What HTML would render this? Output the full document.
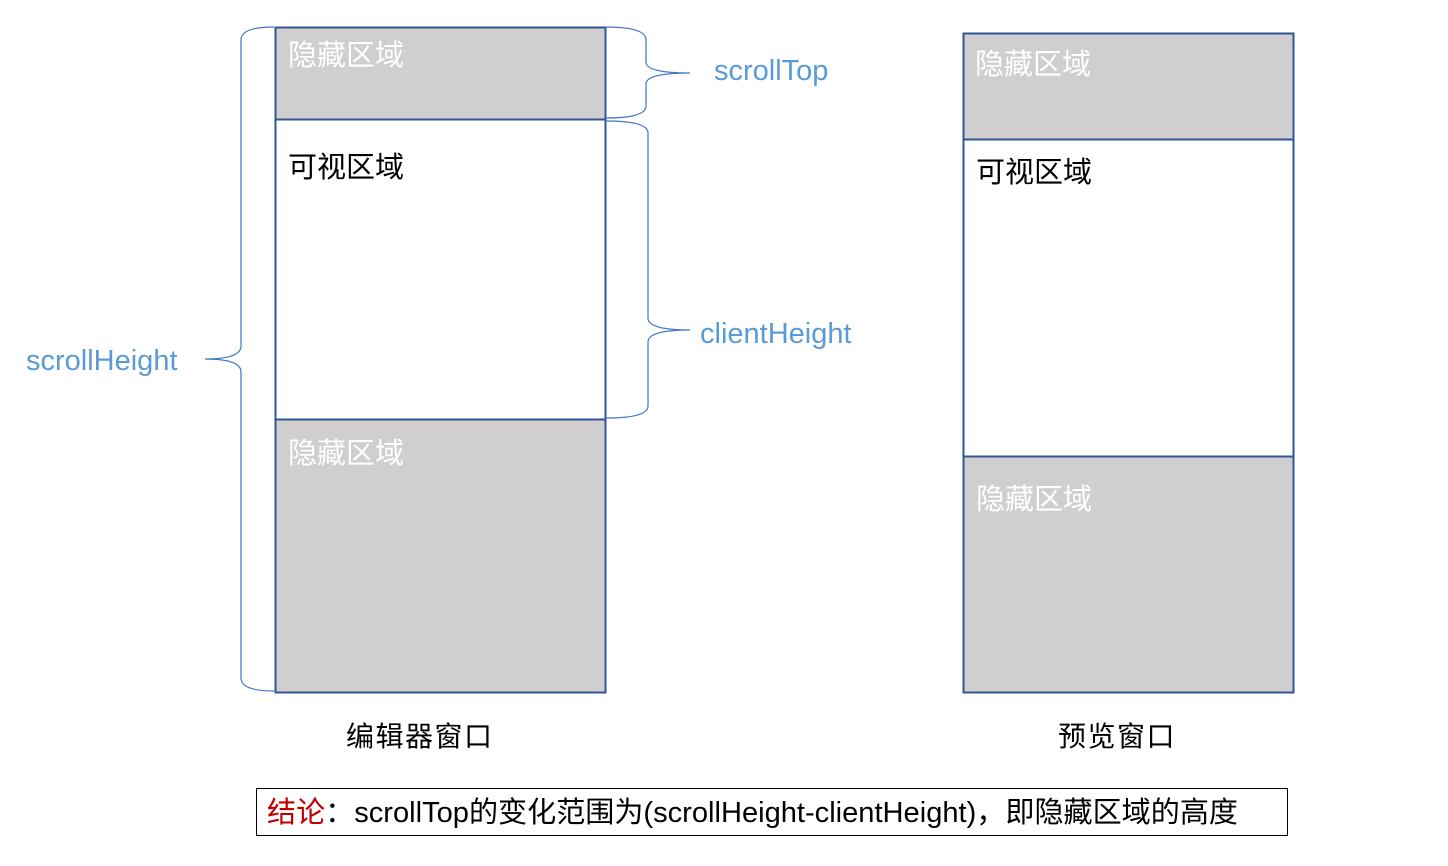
<!DOCTYPE html>
<html><head><meta charset="utf-8"><style>
body{margin:0;background:#fff;}
svg text{font-family:"Liberation Sans","Noto Sans CJK SC",sans-serif;}
</style></head><body>
<svg width="1448" height="861" viewBox="0 0 1448 861" xmlns="http://www.w3.org/2000/svg">
<rect x="0" y="0" width="1448" height="861" fill="#fff"/>
<rect x="275.5" y="27.5" width="330" height="92" fill="#d0cece"/>
<rect x="275.5" y="419.5" width="330" height="273" fill="#d0cece"/>
<rect x="275.5" y="27.5" width="330" height="665" fill="none" stroke="#2f5597" stroke-width="2"/>
<line x1="275" y1="119.5" x2="606" y2="119.5" stroke="#2f5597" stroke-width="2"/>
<line x1="275" y1="419.5" x2="606" y2="419.5" stroke="#2f5597" stroke-width="2"/>
<rect x="963.5" y="33.5" width="330" height="106" fill="#d0cece"/>
<rect x="963.5" y="456.5" width="330" height="236" fill="#d0cece"/>
<rect x="963.5" y="33.5" width="330" height="659" fill="none" stroke="#2f5597" stroke-width="2"/>
<line x1="963" y1="139.5" x2="1294" y2="139.5" stroke="#2f5597" stroke-width="2"/>
<line x1="963" y1="456.5" x2="1294" y2="456.5" stroke="#2f5597" stroke-width="2"/>
<g fill="none" stroke="#4472c4" stroke-width="1.2">
<path d="M274 27 Q241 27 241 40 L241 346 Q241 359 205 359 Q241 359 241 372 L241 678 Q241 691 274 691"/>
<path d="M606 27 Q646 27 646 40 L646 62 Q646 73 690 73 Q646 73 646 84 L646 106 Q646 118 606 118"/>
<path d="M606 121 Q648 121 648 133 L648 318 Q648 330 690 330 Q648 330 648 342 L648 406 Q648 418 606 418"/>
</g>
<g font-size="29">
<text x="288" y="65" fill="#fff">隐藏区域</text>
<text x="288" y="177" fill="#000">可视区域</text>
<text x="288" y="463" fill="#fff">隐藏区域</text>
<text x="975" y="74" fill="#fff">隐藏区域</text>
<text x="976" y="182" fill="#000">可视区域</text>
<text x="976" y="509" fill="#fff">隐藏区域</text>
</g>
<g font-size="28" letter-spacing="1.5">
<text x="346" y="746" fill="#000">编辑器窗口</text>
<text x="1058" y="746" fill="#000">预览窗口</text>
</g>
<g font-size="29" fill="#5b9bd5">
<text x="714" y="80">scrollTop</text>
<text x="700" y="343">clientHeight</text>
<text x="26" y="370">scrollHeight</text>
</g>
<rect x="256.5" y="788.5" width="1031" height="47" fill="none" stroke="#000" stroke-width="1"/>
<text x="267" y="822" font-size="29" textLength="971" lengthAdjust="spacingAndGlyphs"><tspan fill="#c00000">结论</tspan><tspan fill="#000">：scrollTop的变化范围为(scrollHeight-clientHeight)，即隐藏区域的高度</tspan></text>
</svg>
</body></html>
